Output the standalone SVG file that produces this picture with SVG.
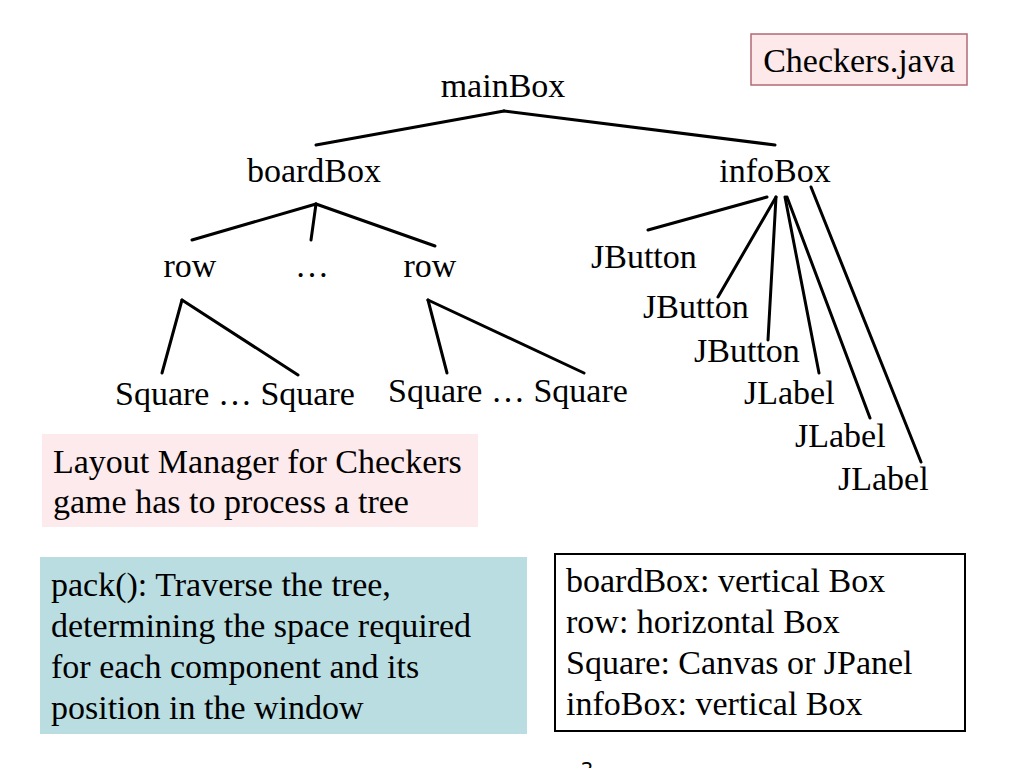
<svg xmlns="http://www.w3.org/2000/svg" width="1024" height="768" viewBox="0 0 1024 768">
<style>
text{font-family:"Liberation Serif","Times New Roman",serif;fill:#000;font-size:34px}
.c{text-anchor:middle}
.e line{stroke:#000;stroke-width:3;stroke-linecap:round}
</style>
<rect width="1024" height="768" fill="#fff"/>
<g id="checkers-java"><rect x="751" y="34" width="216" height="51" fill="#fde9ea" stroke="#b06a74" stroke-width="1.5"/><text x="859" y="72" class="c">Checkers.java</text></g>
<g class="e" id="connectors">
<line x1="504" y1="111" x2="316" y2="145"/>
<line x1="504" y1="111" x2="775" y2="145"/>
<line x1="316" y1="204" x2="192" y2="240"/>
<line x1="316" y1="204" x2="311" y2="240"/>
<line x1="316" y1="204" x2="435" y2="246"/>
<line x1="182" y1="300" x2="162" y2="373"/>
<line x1="182" y1="300" x2="298" y2="375"/>
<line x1="428" y1="300" x2="447" y2="373"/>
<line x1="428" y1="300" x2="584" y2="373"/>
<line x1="767" y1="197" x2="648" y2="230"/>
<line x1="776" y1="197" x2="718" y2="297"/>
<line x1="776" y1="197" x2="768" y2="340"/>
<line x1="785" y1="197" x2="819" y2="373"/>
<line x1="787" y1="197" x2="870" y2="418"/>
<line x1="811" y1="187" x2="921" y2="462"/>
</g>
<g id="mainBox"><text x="503" y="97" class="c">mainBox</text></g>
<g id="boardBox"><text x="314" y="182" class="c">boardBox</text></g>
<g id="infoBox"><text x="775" y="182" class="c">infoBox</text></g>
<g id="row1"><text x="190" y="277" class="c">row</text></g>
<g id="dots"><text x="312" y="277" class="c">…</text></g>
<g id="row2"><text x="430" y="277" class="c">row</text></g>
<g id="squares1"><text x="115" y="405">Square … Square</text></g>
<g id="squares2"><text x="388" y="402">Square … Square</text></g>
<g id="jbutton1"><text x="591" y="268">JButton</text></g>
<g id="jbutton2"><text x="643" y="318">JButton</text></g>
<g id="jbutton3"><text x="694" y="362">JButton</text></g>
<g id="jlabel1"><text x="744" y="404">JLabel</text></g>
<g id="jlabel2"><text x="795" y="447">JLabel</text></g>
<g id="jlabel3"><text x="838" y="490">JLabel</text></g>
<g id="note-layout"><rect x="42" y="434" width="436" height="93" fill="#fdeaec"/>
<text x="53" y="473">Layout Manager for Checkers</text><text x="53" y="513">game has to process a tree</text></g>
<g id="note-pack"><rect x="40" y="557" width="487" height="177" fill="#b9dde0"/>
<text x="51" y="596">pack(): Traverse the tree,</text>
<text x="51" y="637">determining the space required</text>
<text x="51" y="678">for each component and its</text>
<text x="51" y="719">position in the window</text></g>
<g id="note-types"><rect x="555" y="554" width="410" height="177" fill="#fff" stroke="#000" stroke-width="2"/>
<text x="566" y="592">boardBox: vertical Box</text>
<text x="566" y="633">row: horizontal Box</text>
<text x="566" y="674">Square: Canvas or JPanel</text>
<text x="566" y="715">infoBox: vertical Box</text></g>
<g id="page-number"><text x="587" y="776" class="c" style="font-size:20px;font-family:'DejaVu Sans',sans-serif">2</text></g>
</svg>
